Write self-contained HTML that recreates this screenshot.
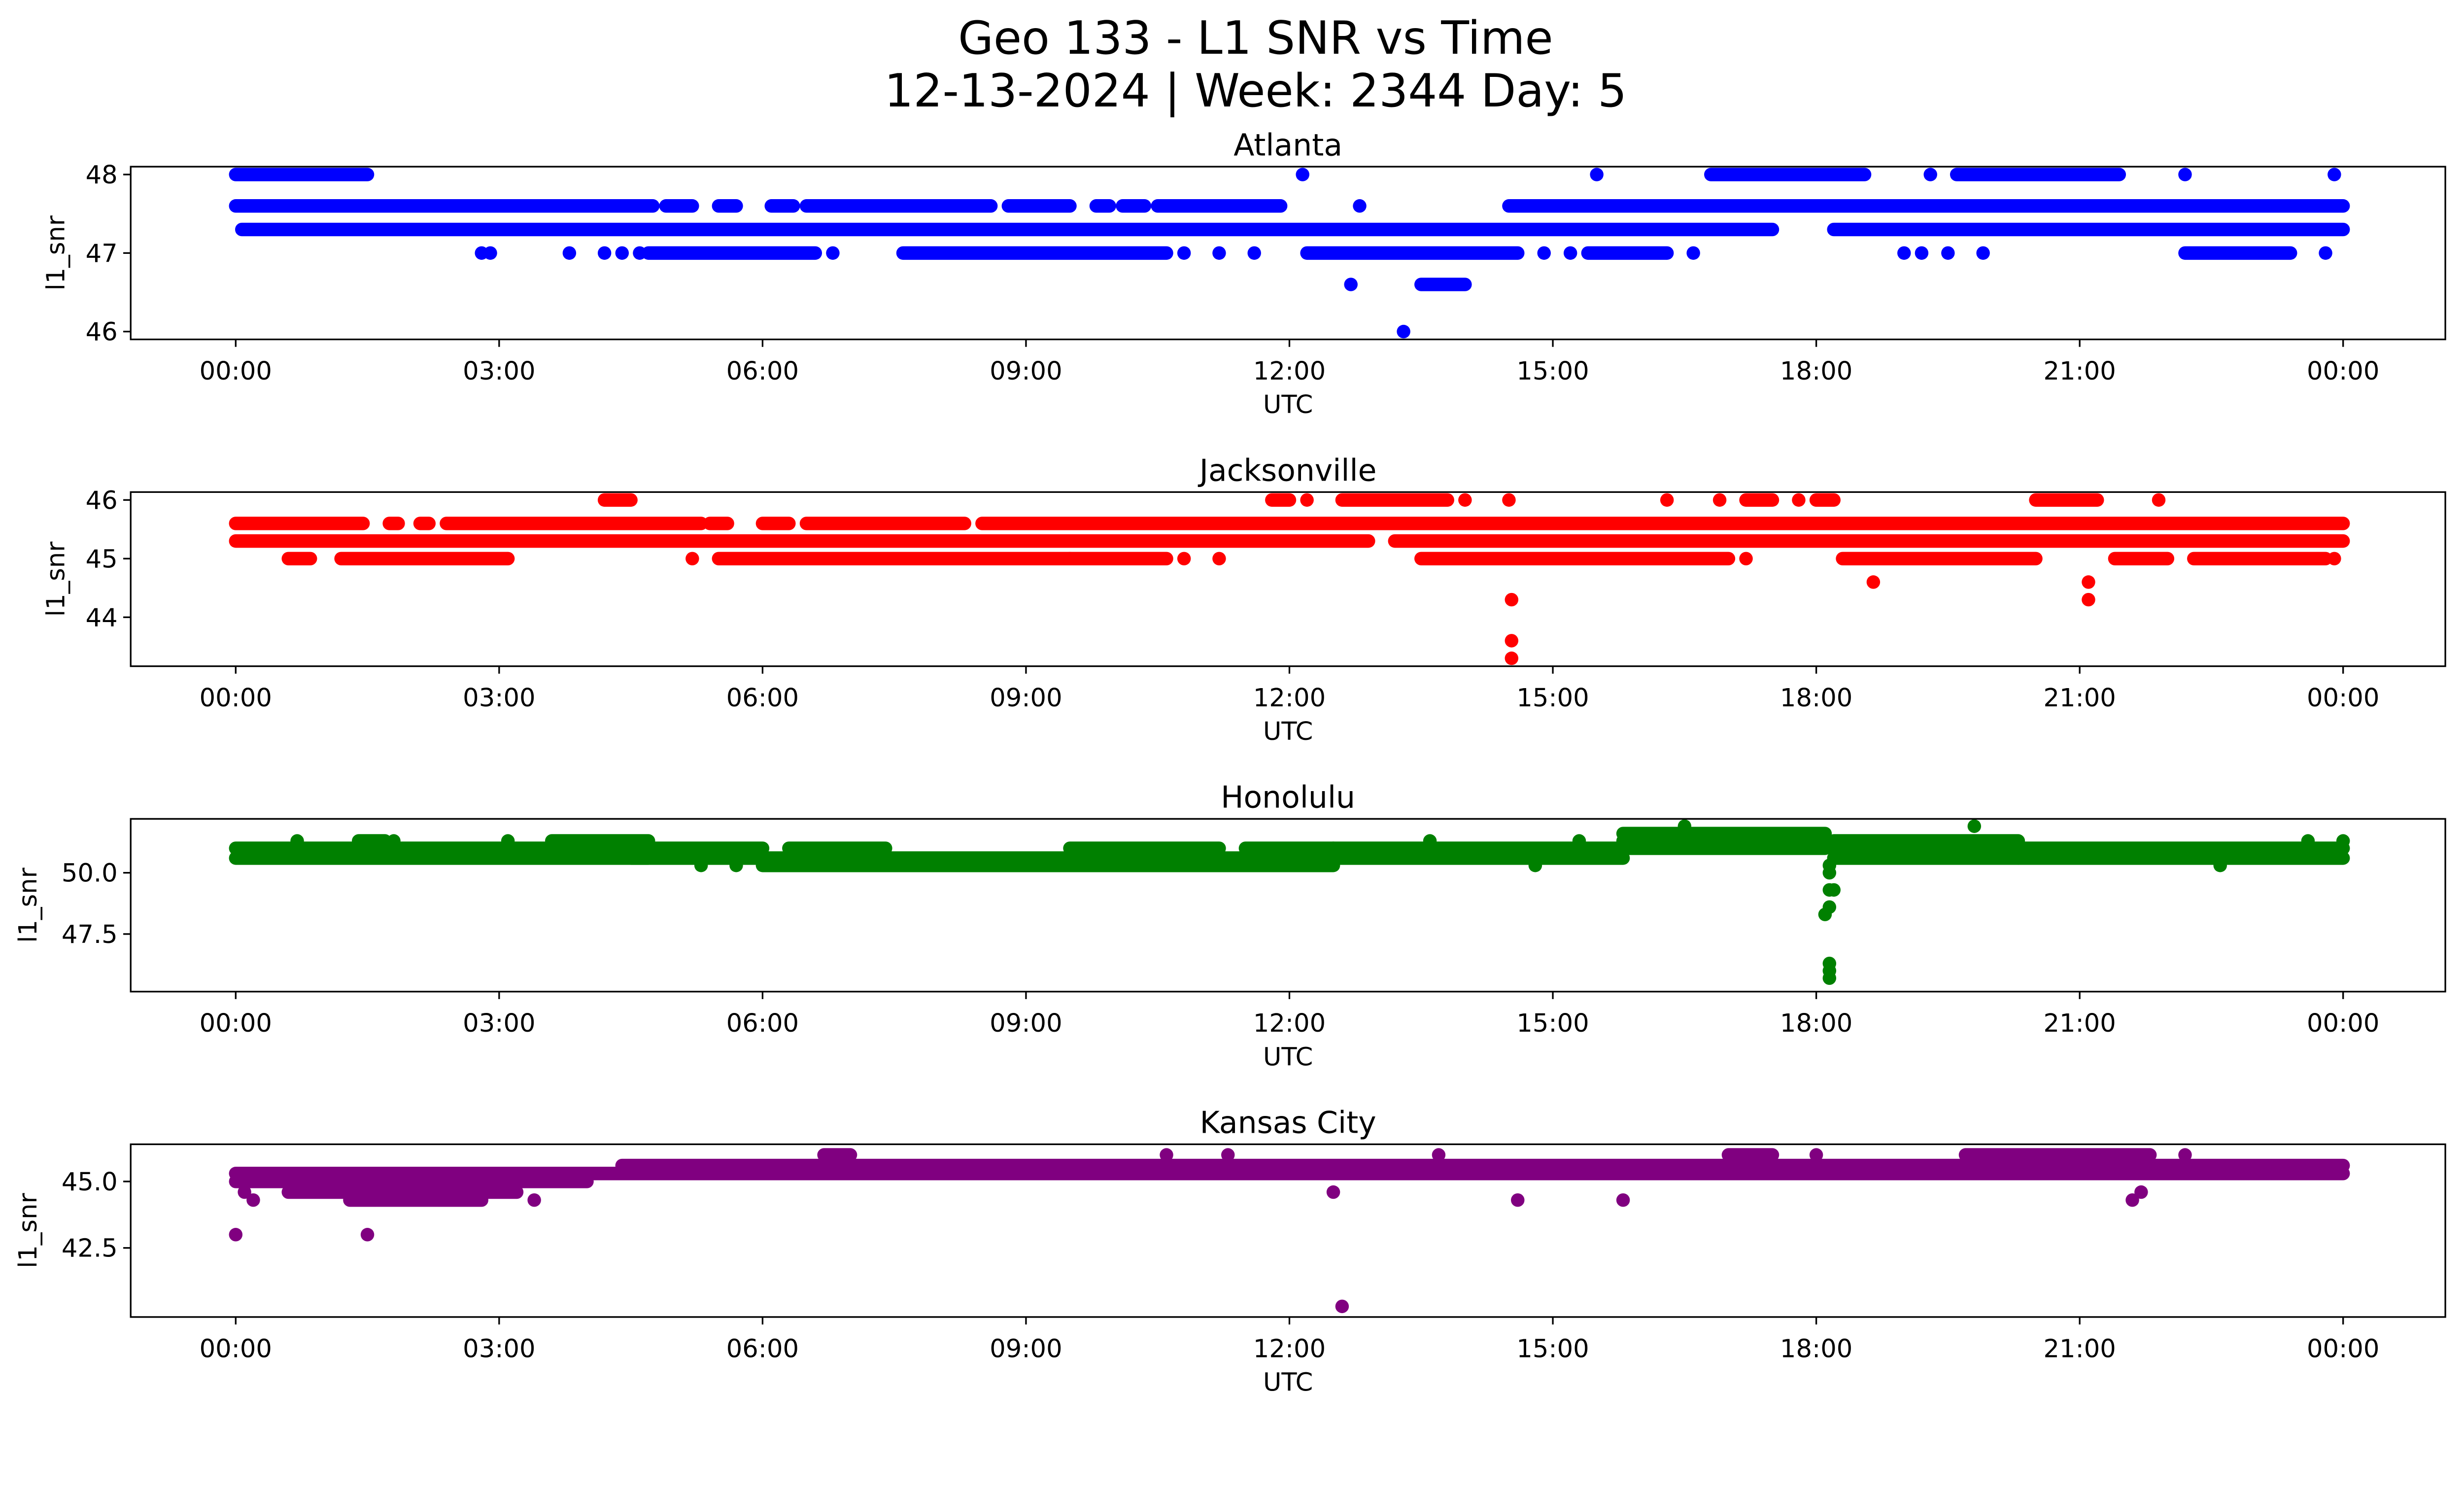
<!DOCTYPE html>
<html><head><meta charset="utf-8">
<style>
html,body{margin:0;padding:0;background:#fff;overflow:hidden;}
svg{display:block;width:100vw;height:calc(100vw * 3033 / 5279);font-family:"DejaVu Sans","Liberation Sans",sans-serif;}
</style></head>
<body>
<svg id="chart" viewBox="0 0 5279 3033" preserveAspectRatio="xMidYMin meet" xmlns="http://www.w3.org/2000/svg">
<rect width="5279" height="3033" fill="#fff"/>
<text x="2690" y="115" font-size="98" text-anchor="middle">Geo 133 - L1 SNR vs Time</text>
<text x="2690" y="228" font-size="98" text-anchor="middle">12-13-2024 | Week: 2344 Day: 5</text>
</svg>
<script>
// ---- data (hours UTC, l1_snr) ----
const panelNames = ["Atlanta","Jacksonville","Honolulu","Kansas City"];
const panelColors = ["#0000ff","#ff0000","#008000","#800080"];
const xTickLabels = ["00:00","03:00","06:00","09:00","12:00","15:00","18:00","21:00","00:00"];
const xTickHours = [0,3,6,9,12,15,18,21,24];

const atlYTicks = [46,47,48];
const atlRuns = [[47.6,0,4.75],[47.6,4.9,5.2],[47.6,5.5,5.7],[47.6,6.1,6.35],[47.6,6.5,8.6],[47.6,8.8,9.5],[47.6,9.8,9.95],[47.6,10.1,10.35],[47.6,10.5,11.9],[47.6,14.5,24],
 [48,0,1.5],[48,16.8,18.55],[48,19.6,21.45],
 [47.3,0.07,17.5],[47.3,18.2,24],
 [47,4.7,6.6],[47,7.6,10.6],[47,12.2,14.6],[47,15.4,16.3],[47,22.2,23.4],
 [46.6,13.5,14.0]];
const atlPoints = [[12.8,47.6],[12.15,48],[15.5,48],[19.3,48],[22.2,48],[23.9,48],
 [2.8,47],[2.9,47],[3.8,47],[4.2,47],[4.4,47],[4.6,47],[6.8,47],[10.8,47],[11.2,47],[11.6,47],[14.9,47],[15.2,47],[16.6,47],[19.0,47],[19.2,47],[19.5,47],[19.9,47],[23.8,47],
 [12.7,46.6],[13.3,46]];

const jaxYTicks = [44,45,46];
const jaxRuns = [[45.6,0,1.45],[45.6,1.75,1.85],[45.6,2.1,2.2],[45.6,2.4,5.3],[45.6,5.4,5.6],[45.6,6.0,6.3],[45.6,6.5,8.3],[45.6,8.5,24],
 [45.3,0,12.9],[45.3,13.2,24],
 [45,0.6,0.85],[45,1.2,3.1],[45,5.5,9.5],[45,9.5,10.6],[45,13.5,17.0],[45,18.3,20.5],[45,21.4,22],[45,22.3,23.8],
 [46,4.2,4.5],[46,11.8,12.0],[46,12.6,13.8],[46,17.2,17.5],[46,18.0,18.2],[46,20.5,21.2]];
const jaxPoints = [[5.2,45],[10.8,45],[11.2,45],[17.2,45],[23.9,45],
 [12.2,46],[14.0,46],[14.5,46],[16.3,46],[16.9,46],[17.8,46],[21.9,46],
 [18.65,44.6],[21.1,44.6],[14.53,44.3],[21.1,44.3],[14.53,43.6],[14.53,43.3]];

const honYTicks = [47.5,50.0];
const honRuns = [[51.0,0,4.7],[50.6,0,4.7],[51.3,1.4,1.7],[51.3,3.6,4.7],
 [50.6,4.5,6],[51.0,4.5,6],
 [50.6,6,12.5],[50.3,6,12.5],[51.0,6.3,7.4],[51.0,9.5,11.2],[51.0,11.5,12.5],
 [50.6,12.5,15.8],[51.0,12.5,15.8],
 [51.6,15.8,18.1],[51.3,15.8,18.1],[51.0,15.8,18.1],
 [51.3,18.2,20.3],[51.0,18.2,20.3],[50.6,18.2,20.3],
 [50.6,20.3,24],[51.0,20.3,24]];
const honPoints = [[0.7,51.3],[1.8,51.3],[3.1,51.3],[5.3,50.3],[5.7,50.3],[13.6,51.3],[15.3,51.3],[16.5,51.9],[19.8,51.9],[23.6,51.3],[24,51.3],
 [18.15,50.3],[18.15,50.0],[18.15,49.3],[18.2,49.3],[18.15,48.6],[18.1,48.3],[18.15,46.3],[18.15,46.0],[18.15,45.7],[14.8,50.3],[22.6,50.3]];

const kcYTicks = [42.5,45.0];
const kcRuns = [[45.3,0,4],[45.0,0,4],[44.6,0.6,3.2],[44.3,1.3,2.8],
 [45.3,4,24],[45.6,4.4,24],
 [46.0,6.7,7.0],[46.0,17.0,17.5],[46.0,19.7,21.8]];
const kcPoints = [[0,43],[1.5,43],[12.6,40.3],[0.1,44.6],[0.2,44.3],[12.5,44.6],[14.6,44.3],[15.8,44.3],[21.6,44.3],[21.7,44.6],
 [10.6,46],[11.3,46],[13.7,46],[18,46],[22.2,46],[3.4,44.3]];

// ---- layout ----
const X0 = 280, X1 = 5239, HX0 = 505, HX1 = 5020;
const panelTops = [357,1054,1754,2451];
const panelBottoms = [727,1427,2124,2821];
const panelDomains = [[45.9,48.1],[43.165,46.135],[45.15,52.2],[39.9,46.4]];
const panelRuns = [atlRuns,jaxRuns,honRuns,kcRuns];
const panelPoints = [atlPoints,jaxPoints,honPoints,kcPoints];
const panelYTicks = [atlYTicks,jaxYTicks,honYTicks,kcYTicks];
const panelTickFmt = [v=>String(v),v=>String(v),v=>v.toFixed(1),v=>v.toFixed(1)];
const R = 14.5;

const NS = "http://www.w3.org/2000/svg";
const svg = document.getElementById("chart");
function mk(tag, attrs, parent){
  const e = document.createElementNS(NS, tag);
  for (const k in attrs) e.setAttribute(k, attrs[k]);
  (parent||svg).appendChild(e);
  return e;
}
const xScale = h => HX0 + (HX1-HX0)*h/24;

panelNames.forEach((name,i)=>{
  const top = panelTops[i], bot = panelBottoms[i], [d0,d1] = panelDomains[i];
  const yScale = v => bot - (v-d0)/(d1-d0)*(bot-top);
  const g = mk("g",{});
  
  
  const clip = mk("clipPath",{id:"clip"+i},g);
  mk("rect",{x:X0,y:top,width:X1-X0,height:bot-top},clip);
  const marks = mk("g",{"clip-path":"url(#clip"+i+")"},g);
  panelRuns[i].forEach(r=>{
    const ln = mk("line",{x1:xScale(r[1]),x2:xScale(r[2]),y1:yScale(r[0]),y2:yScale(r[0]),stroke:panelColors[i],"stroke-width":2*R,"stroke-linecap":"round"},marks);
    
    
  });
  panelPoints[i].forEach(p=>{
    const c = mk("circle",{cx:xScale(p[0]),cy:yScale(p[1]),r:R,fill:panelColors[i]},marks);
    
    
  });
  const frame = mk("rect",{x:X0,y:top,width:X1-X0,height:bot-top,fill:"none",stroke:"#000","stroke-width":3.5},g);
  
  
  xTickHours.forEach((h,k)=>{
    const x = xScale(h);
    mk("line",{x1:x,x2:x,y1:bot,y2:bot+16,stroke:"#000","stroke-width":3.5},g);
    const t = mk("text",{x:x,y:bot+86,"font-size":54,"text-anchor":"middle"},g);
    t.textContent = xTickLabels[k];
    
    
  });
  panelYTicks[i].forEach(v=>{
    const y = yScale(v);
    mk("line",{x1:X0-16,x2:X0,y1:y,y2:y,stroke:"#000","stroke-width":3.5},g);
    const t = mk("text",{x:X0-28,y:y+19,"font-size":54,"text-anchor":"end"},g);
    t.textContent = panelTickFmt[i](v);
    
    
  });
  const tt = mk("text",{x:(X0+X1)/2,y:top-24,"font-size":65,"text-anchor":"middle"},g);
  tt.textContent = name;
  
  
  const xl = mk("text",{x:(X0+X1)/2,y:bot+158,"font-size":54,"text-anchor":"middle"},g);
  xl.textContent = "UTC";
  
  
  const cy = (top+bot)/2;
  const lx = i<2 ? 138 : 78;
  const yl = mk("text",{x:lx,y:cy,"font-size":54,"text-anchor":"middle",transform:"rotate(-90 "+lx+" "+cy+")"},g);
  yl.textContent = "l1_snr";
  
  
});
</script>
</body></html>
